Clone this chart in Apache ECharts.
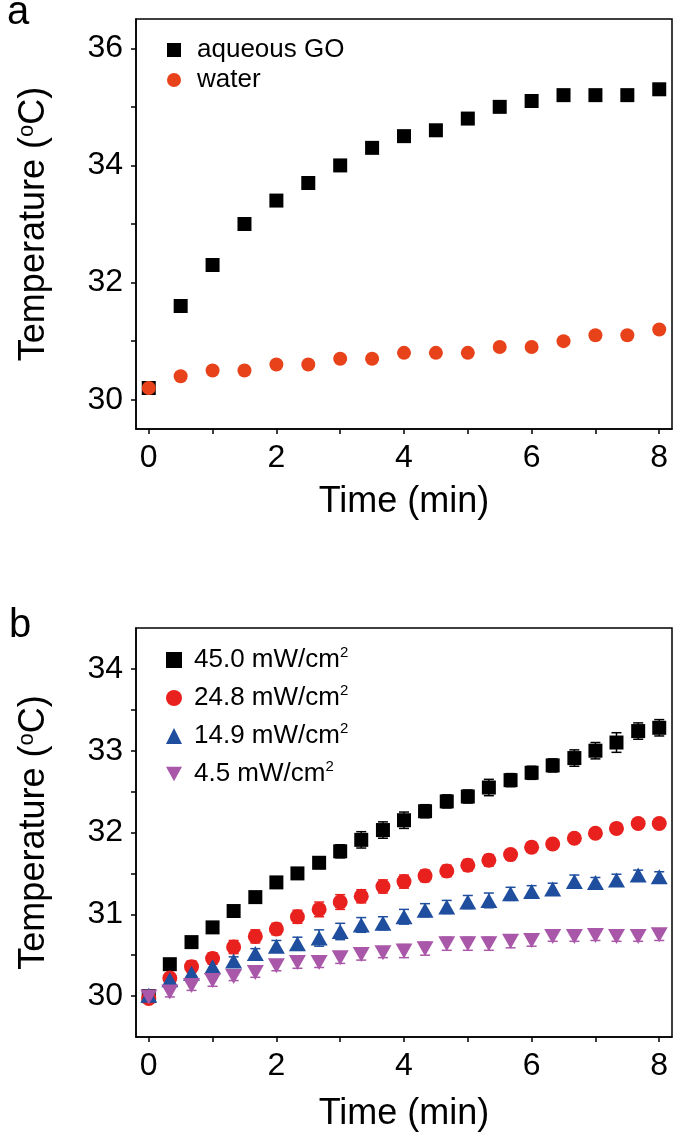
<!DOCTYPE html>
<html>
<head>
<meta charset="utf-8">
<script src="https://cdn.jsdelivr.net/npm/echarts@6/dist/echarts.min.js"></script>
<style>
html,body{margin:0;padding:0;background:#fff;}
#chart{width:675px;height:1140px;}
</style>
</head>
<body>
<div id="chart"></div>
<script>
// ---- Panel a data ----
const timeA = [0,0.5,1,1.5,2,2.5,3,3.5,4,4.5,5,5.5,6,6.5,7,7.5,8];
const aqueousGO = [30.2,31.6,32.3,33.0,33.4,33.7,34.0,34.3,34.5,34.6,34.8,35.0,35.1,35.2,35.2,35.2,35.3];
const water = [30.2,30.4,30.5,30.5,30.6,30.6,30.7,30.7,30.8,30.8,30.8,30.9,30.9,31.0,31.1,31.1,31.2];

// ---- Panel b data ----
const timeB = [0,0.33,0.67,1,1.33,1.67,2,2.33,2.67,3,3.33,3.67,4,4.33,4.67,5,5.33,5.67,6,6.33,6.67,7,7.33,7.67,8];
const p45 = [30.0,30.39,30.66,30.84,31.04,31.21,31.39,31.50,31.63,31.77,31.91,32.03,32.15,32.26,32.38,32.44,32.55,32.64,32.73,32.82,32.91,33.0,33.10,33.24,33.28];
const p45err = [0.03,0.04,0.05,0.06,0.05,0.06,0.06,0.06,0.07,0.08,0.1,0.1,0.1,0.08,0.08,0.08,0.1,0.08,0.08,0.08,0.1,0.1,0.12,0.1,0.1];
const p248 = [29.97,30.22,30.36,30.46,30.60,30.73,30.82,30.97,31.06,31.15,31.22,31.34,31.40,31.47,31.53,31.60,31.66,31.73,31.82,31.86,31.93,31.99,32.05,32.11,32.11];
const p248err = [0.05,0.05,0.07,0.07,0.08,0.08,0.07,0.08,0.09,0.09,0.08,0.08,0.08,0.07,0.07,0.07,0.07,0.06,0.06,0.05,0.05,0.05,0.05,0.04,0.04];
const p149 = [30.01,30.20,30.28,30.36,30.43,30.52,30.61,30.64,30.71,30.79,30.87,30.89,30.97,31.05,31.09,31.15,31.17,31.25,31.28,31.31,31.40,31.39,31.42,31.48,31.46];
const p149err = [0.05,0.06,0.06,0.06,0.05,0.06,0.07,0.08,0.1,0.1,0.09,0.08,0.09,0.08,0.08,0.08,0.09,0.08,0.07,0.07,0.08,0.06,0.07,0.06,0.06];
const p45b = [29.99,30.05,30.13,30.19,30.24,30.29,30.37,30.41,30.41,30.47,30.51,30.53,30.55,30.58,30.64,30.64,30.64,30.67,30.68,30.73,30.73,30.74,30.73,30.73,30.75];
const p45berr = [0.06,0.06,0.06,0.07,0.05,0.06,0.06,0.07,0.06,0.07,0.07,0.06,0.08,0.08,0.08,0.08,0.08,0.08,0.07,0.06,0.06,0.06,0.06,0.06,0.07];

const xTicks = [0,1,2,3,4,5,6,7,8];
const xLabels = [0,2,4,6,8];
const yTicksA = [30,31,32,33,34,35,36];
const yLabelsA = [30,32,34,36];
const yTicksB = [30,30.5,31,31.5,32,32.5,33,33.5,34];
const yLabelsB = [30,31,32,33,34];

const namesA = ['aqueous GO','water'];
const namesB = ['45.0 mW/cm2','24.8 mW/cm2','14.9 mW/cm2','4.5 mW/cm2'];

const FONT = 'Liberation Sans, Arial, sans-serif';
const C_BLACK = '#000000', C_ORANGE = '#e8421a', C_RED = '#e8201e', C_BLUE = '#1f4e9e', C_PURPLE = '#a957a8';
const INV_TRI = 'path://M0,0L10,0L5,9Z';

function zip(xs, ys){ return xs.map((x,i)=>[x, ys[i]]); }
function errData(xs, ys, es){ return xs.map((x,i)=>[x, ys[i]-es[i], ys[i]+es[i]]); }

function errSeries(xs, ys, es, color){
  return {
    type:'custom', xAxisIndex:1, yAxisIndex:1, z:1, silent:true,
    data: errData(xs, ys, es),
    encode:{x:0, y:[1,2]},
    renderItem:function(params, api){
      const x = api.value(0);
      const top = api.coord([x, api.value(2)]);
      const bot = api.coord([x, api.value(1)]);
      const w = 5;
      const st = {stroke:color, lineWidth:1.5};
      return {type:'group', children:[
        {type:'line', shape:{x1:top[0], y1:top[1], x2:bot[0], y2:bot[1]}, style:st},
        {type:'line', shape:{x1:top[0]-w, y1:top[1], x2:top[0]+w, y2:top[1]}, style:st},
        {type:'line', shape:{x1:bot[0]-w, y1:bot[1], x2:bot[0]+w, y2:bot[1]}, style:st}
      ]};
    }
  };
}

function xAxisCfg(gridIndex, gap){
  return {
    type:'value', gridIndex:gridIndex, min:-0.2, max:8.2,
    axisLine:{show:true, onZero:false, lineStyle:{color:'#000', width:1.5}},
    axisTick:{show:true, length:5, customValues:xTicks, lineStyle:{color:'#000', width:1.5}},
    axisLabel:{customValues:xLabels, fontSize:32, color:'#000', fontFamily:FONT, margin:13},
    splitLine:{show:false},
    name:'Time (min)', nameLocation:'middle', nameGap:gap,
    nameTextStyle:{fontSize:36, color:'#000', fontFamily:FONT}
  };
}
function yAxisCfg(gridIndex, min, max, ticks, labels){
  return {
    type:'value', gridIndex:gridIndex, min:min, max:max,
    axisLine:{show:true, onZero:false, lineStyle:{color:'#000', width:1.5}},
    axisTick:{show:true, length:5, customValues:ticks, lineStyle:{color:'#000', width:1.5}},
    axisLabel:{customValues:labels, fontSize:32, color:'#000', fontFamily:FONT, margin:13},
    splitLine:{show:false},
    name:'Temperature ({sup|o}C)', nameLocation:'middle', nameGap:84, nameRotate:90,
    nameTextStyle:{fontSize:36, color:'#000', fontFamily:FONT,
      rich:{sup:{fontSize:22, color:'#000', fontFamily:FONT, verticalAlign:'top', padding:[0,0,14,0]}}}
  };
}

const legendRich = {sup:{fontSize:15, color:'#000', fontFamily:FONT, padding:[0,0,15,0]}};

const option = {
  animation:false,
  backgroundColor:'#fff',
  grid:[
    {left:136, top:19, width:536, height:410, show:true, borderColor:'#000', borderWidth:1.5},
    {left:136, top:628, width:536, height:409, show:true, borderColor:'#000', borderWidth:1.5}
  ],
  xAxis:[xAxisCfg(0, 55), xAxisCfg(1, 59)],
  yAxis:[yAxisCfg(0, 29.5, 36.5, yTicksA, yLabelsA), yAxisCfg(1, 29.5, 34.5, yTicksB, yLabelsB)],
  legend:[
    {data:namesA, orient:'vertical', left:162, top:32, itemWidth:14, itemHeight:14, itemGap:4,
     textStyle:{fontSize:26, color:'#000', fontFamily:FONT, padding:[0,0,0,11]}},
    {data:namesB, orient:'vertical', left:161, top:640, itemWidth:16, itemHeight:16, itemGap:10,
     formatter:function(n){ return n.replace('cm2','cm{sup|2}'); },
     textStyle:{fontSize:26, color:'#000', fontFamily:FONT, padding:[0,0,0,7], rich:legendRich}}
  ],
  graphic:[
    {type:'text', left:7, top:-7, style:{text:'a', fontSize:40, fill:'#000', fontFamily:FONT}},
    {type:'text', left:9, top:606, style:{text:'b', fontSize:40, fill:'#000', fontFamily:FONT}}
  ],
  series:[
    {name:'aqueous GO', type:'scatter', xAxisIndex:0, yAxisIndex:0, symbol:'rect', symbolSize:14,
     itemStyle:{color:C_BLACK, opacity:1}, data:zip(timeA, aqueousGO)},
    {name:'water', type:'scatter', xAxisIndex:0, yAxisIndex:0, symbol:'circle', symbolSize:14,
     itemStyle:{color:C_ORANGE, opacity:1}, data:zip(timeA, water)},
    errSeries(timeB, p45, p45err, C_BLACK),
    errSeries(timeB, p248, p248err, C_RED),
    errSeries(timeB, p149, p149err, C_BLUE),
    errSeries(timeB, p45b, p45berr, C_PURPLE),
    {name:namesB[0], type:'scatter', xAxisIndex:1, yAxisIndex:1, symbol:'rect', symbolSize:14, z:3,
     itemStyle:{color:C_BLACK, opacity:1}, data:zip(timeB, p45)},
    {name:namesB[1], type:'scatter', xAxisIndex:1, yAxisIndex:1, symbol:'circle', symbolSize:15, z:3,
     itemStyle:{color:C_RED, opacity:1}, data:zip(timeB, p248)},
    {name:namesB[2], type:'scatter', xAxisIndex:1, yAxisIndex:1, symbol:'triangle', symbolSize:[17,15], z:3,
     itemStyle:{color:C_BLUE, opacity:1}, data:zip(timeB, p149)},
    {name:namesB[3], type:'scatter', xAxisIndex:1, yAxisIndex:1, symbol:INV_TRI, symbolSize:[17,15], z:3,
     itemStyle:{color:C_PURPLE, opacity:1}, data:zip(timeB, p45b)}
  ]
};

const chart = echarts.init(document.getElementById('chart'), null, {renderer:'canvas'});
chart.setOption(option);
</script>
</body>
</html>
